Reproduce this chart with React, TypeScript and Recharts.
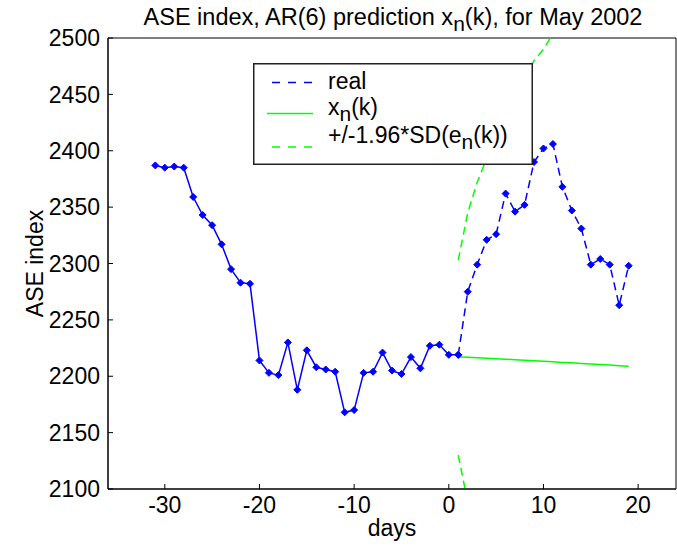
import React from "react";
import { LineChart, Line, XAxis, YAxis, ReferenceArea, Legend } from "recharts";

// days before the prediction start (history, solid) and after (real, dashed)
const histDays = [
  -31, -30, -29, -28, -27, -26, -25, -24, -23, -22, -21, -20, -19, -18, -17,
  -16, -15, -14, -13, -12, -11, -10, -9, -8, -7, -6, -5, -4, -3, -2, -1, 0, 1,
];
const histValues = [
  2387, 2385, 2386, 2385, 2359, 2343, 2334, 2317, 2295, 2283, 2282, 2214, 2203,
  2201, 2230, 2188, 2223, 2208, 2206, 2204, 2168, 2170, 2203, 2204, 2221, 2205,
  2202, 2217, 2207, 2227, 2228, 2219, 2219,
];

const predDays = [1, 2, 3, 4, 5, 6, 7, 8, 9, 10, 11, 12, 13, 14, 15, 16, 17, 18, 19];
const realValues = [
  2219, 2275, 2299, 2321, 2326, 2362, 2346, 2352, 2390, 2402, 2406, 2368, 2347,
  2331, 2299, 2304, 2299, 2263, 2298,
];
const xnValues = [
  2217.4, 2216.9, 2216.5, 2216.0, 2215.5, 2215.1, 2214.6, 2214.2, 2213.7, 2213.2,
  2212.8, 2212.3, 2211.9, 2211.4, 2210.9, 2210.5, 2210.0, 2209.4, 2208.9,
];
const upperValues = [2303, 2345, 2372, 2393, 2412, 2430, 2447, 2464, 2480, 2490, 2504, 2516];
const lowerValues = [2130, 2088, 2061];

const xTicks = [-30, -20, -10, 0, 10, 20];
const yTicks = [2100, 2150, 2200, 2250, 2300, 2350, 2400, 2450, 2500];

const FONT = '"Liberation Sans", Arial, Helvetica, sans-serif';
const BLUE = "#0000ff";
const GREEN = "#00ff00";

const pick = (days: number[], vals: number[], d: number) => {
  const i = days.indexOf(d);
  return i >= 0 && i < vals.length ? vals[i] : null;
};

const allDays = histDays.concat(predDays.slice(1));
const data = allDays.map((d) => ({
  day: d,
  hist: pick(histDays, histValues, d),
  real: pick(predDays, realValues, d),
  xn: pick(predDays, xnValues, d),
  upper: pick(predDays, upperValues, d),
  lower: pick(predDays, lowerValues, d),
}));

const Diamond = (props: any) => {
  const { cx, cy, index, dataKey } = props;
  if (cx == null || cy == null) return <g key={`${dataKey}-${index}`} />;
  const r = 3.5;
  return (
    <path
      key={`${dataKey}-${index}`}
      d={`M${cx},${cy - r}L${cx + r},${cy}L${cx},${cy + r}L${cx - r},${cy}Z`}
      fill={BLUE}
      stroke={BLUE}
      strokeWidth={1}
    />
  );
};

const LegendBox = () => (
  <svg width={280} height={102} style={{ display: "block" }}>
    <rect x={0.75} y={0.75} width={278.5} height={100.5} fill="#fff" stroke="#222" strokeWidth={1.5} />
    <line x1={19} x2={60} y1={19.5} y2={19.5} stroke={BLUE} strokeWidth={1.5} strokeDasharray="8 8" />
    <line x1={14} x2={60} y1={50.5} y2={50.5} stroke={GREEN} strokeWidth={1.5} />
    <line x1={19} x2={60} y1={84} y2={84} stroke={GREEN} strokeWidth={1.5} strokeDasharray="8 8" />
    <g fontFamily={FONT} fontSize={23} fill="#000">
      <text x={75} y={26}>real</text>
      <text x={75} y={52}>
        x<tspan dy={6} fontSize={21}>n</tspan>
        <tspan dy={-6}>(k)</tspan>
      </text>
      <text x={75} y={80}>
        +/-1.96*SD(e<tspan dy={6} fontSize={21}>n</tspan>
        <tspan dy={-6}>(k))</tspan>
      </text>
    </g>
  </svg>
);

const App: React.FC = () => {
  const tickStyle = { fill: "#000", fontSize: 23, fontFamily: FONT };
  return (
    <div style={{ position: "absolute", left: 0, top: 0, width: 677, height: 547, background: "#fff" }}>
      <svg width={677} height={38} style={{ position: "absolute", left: 0, top: 0 }}>
        <text x={393} y={25} textAnchor="middle" fontFamily={FONT} fontSize={23.5} fill="#000">
          ASE index, AR(6) prediction x<tspan dy={6} fontSize={21}>n</tspan>
          <tspan dy={-6}>(k), for May 2002</tspan>
        </text>
      </svg>
      <LineChart
        width={677}
        height={547}
        data={data}
        margin={{ top: 38, right: 1, bottom: 0, left: 0 }}
      >
        <XAxis
          type="number"
          dataKey="day"
          domain={[-36, 24]}
          ticks={xTicks}
          interval={0}
          allowDataOverflow
          height={58}
          tickSize={-5}
          tickMargin={13}
          stroke="#000"
          tick={tickStyle}
          label={{ value: "days", position: "insideBottom", offset: 11, fill: "#000", fontSize: 23, fontFamily: FONT }}
        />
        <XAxis
          xAxisId="top"
          orientation="top"
          mirror
          type="number"
          dataKey="day"
          domain={[-36, 24]}
          ticks={xTicks}
          interval={0}
          allowDataOverflow
          tick={false}
          axisLine={false}
          tickSize={5}
          stroke="#000"
        />
        <YAxis
          domain={[2100, 2500]}
          ticks={yTicks}
          interval={0}
          allowDataOverflow
          width={108}
          tickSize={-5}
          tickMargin={13}
          stroke="#000"
          tick={tickStyle}
          label={{
            value: "ASE index",
            angle: -90,
            position: "insideLeft",
            offset: 35,
            fill: "#000",
            fontSize: 23,
            fontFamily: FONT,
            style: { textAnchor: "middle" },
          }}
        />
        <YAxis
          yAxisId="right"
          orientation="right"
          mirror
          domain={[2100, 2500]}
          ticks={yTicks}
          interval={0}
          allowDataOverflow
          tick={false}
          axisLine={false}
          tickSize={5}
          stroke="#000"
        />
        <ReferenceArea x1={-36} x2={24} y1={2100} y2={2500} fill="none" stroke="#000" strokeWidth={1} />
        <Line dataKey="hist" stroke={BLUE} strokeWidth={1.5} dot={Diamond} legendType="none" isAnimationActive={false} />
        <Line dataKey="real" stroke={BLUE} strokeWidth={1.5} strokeDasharray="8 5" dot={Diamond} isAnimationActive={false} />
        <Line dataKey="xn" stroke={GREEN} strokeWidth={1.5} dot={false} isAnimationActive={false} />
        <Line dataKey="upper" stroke={GREEN} strokeWidth={1.5} strokeDasharray="8 5" dot={false} isAnimationActive={false} />
        <Line dataKey="lower" stroke={GREEN} strokeWidth={1.5} strokeDasharray="8 5" dot={false} isAnimationActive={false} />
        <Legend
          layout="vertical"
          align="center"
          verticalAlign="middle"
          content={<LegendBox />}
          wrapperStyle={{ position: "absolute", left: 253, top: 63, width: 280, height: 102 }}
        />
      </LineChart>
    </div>
  );
};

export default App;
